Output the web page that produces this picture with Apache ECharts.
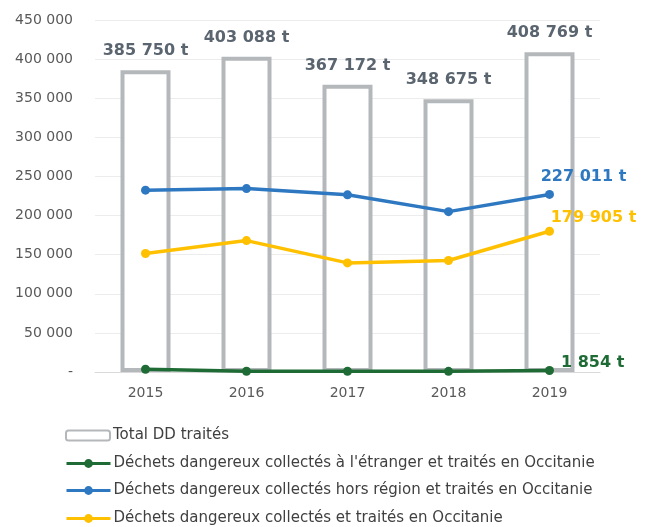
<!DOCTYPE html>
<html>
<head>
<meta charset="utf-8">
<script src="https://cdn.jsdelivr.net/npm/echarts@6/dist/echarts.min.js"></script>
<style>
  html, body { margin: 0; padding: 0; background: #fff; }
  #chart { width: 653px; height: 527px; }
</style>
</head>
<body>
<div id="chart"></div>
<script>
// Tonnages de déchets dangereux traités en Occitanie, 2015–2019
const years = ['2015', '2016', '2017', '2018', '2019'];
const totalTraites = [385750, 403088, 367172, 348675, 408769];
const collectesEtranger = [3500, 1000, 1000, 800, 1854];
const collectesHorsRegion = [232500, 234500, 226500, 205000, 227011];
const collectesOccitanie = [151500, 168000, 139500, 142500, 179905];

const seriesNames = [
  'Total DD traités',
  "Déchets dangereux collectés à l'étranger et traités en Occitanie",
  'Déchets dangereux collectés hors région et traités en Occitanie',
  'Déchets dangereux collectés et traités en Occitanie'
];

const textFont = '"DejaVu Sans", sans-serif';

function fmt(v) {
  return String(Math.round(v)).replace(/\B(?=(\d{3})+(?!\d))/g, ' ');
}

// label shown only on the last point of each line
function lastLabel(color, position, offset) {
  return {
    show: true,
    position: position,
    offset: offset,
    color: color,
    fontFamily: textFont,
    fontWeight: 'bold',
    fontSize: 16,
    formatter: p => (p.dataIndex === years.length - 1 ? fmt(p.value) + ' t' : '')
  };
}

// one legend block per row, stacked under the plot
const legendRowCenters = [437, 465, 492, 520];
const legends = seriesNames.map((name, i) => ({
  orient: 'vertical',
  left: 65,
  top: legendRowCenters[i] - 9,
  padding: 0,
  itemWidth: 44,
  itemHeight: i === 0 ? 10 : 11,
  lineStyle: { width: 3 },
  textStyle: { color: '#404040', fontSize: 15, fontFamily: textFont, padding: [0, 0, 0, -2] },
  data: [name]
}));

const chart = echarts.init(document.getElementById('chart'), null, { renderer: 'canvas' });
chart.setOption({
  animation: false,
  backgroundColor: '#ffffff',
  grid: { left: 95, right: 53, top: 20, bottom: 155 },
  legend: legends,
  xAxis: {
    type: 'category',
    data: years,
    axisLine: { show: true, lineStyle: { color: '#d9d9d9', width: 1 } },
    axisTick: { show: false },
    axisLabel: { color: '#595959', fontSize: 14, fontFamily: textFont, margin: 14 }
  },
  yAxis: {
    type: 'value',
    min: 0,
    max: 450000,
    interval: 50000,
    axisLine: { show: false },
    axisTick: { show: false },
    splitLine: { lineStyle: { color: '#ececec', width: 1 } },
    axisLabel: {
      color: '#595959', fontSize: 14, fontFamily: textFont, margin: 22,
      formatter: v => (v === 0 ? '-' : fmt(v))
    }
  },
  series: [
    {
      name: seriesNames[0],
      type: 'bar',
      data: totalTraites,
      barWidth: 50,
      itemStyle: { color: '#ffffff', borderColor: '#b5b8bb', borderWidth: 4 },
      label: {
        show: true,
        position: 'top',
        distance: 11,
        color: '#5b6570',
        fontFamily: textFont,
        fontWeight: 'bold',
        fontSize: 16,
        formatter: p => fmt(p.value) + ' t'
      },
      z: 1
    },
    {
      name: seriesNames[1],
      type: 'line',
      data: collectesEtranger,
      symbol: 'circle',
      symbolSize: 9,
      lineStyle: { color: '#1f6b35', width: 3.5 },
      itemStyle: { color: '#1f6b35' },
      label: lastLabel('#1f6b35', 'right', [2, -8]),
      z: 3
    },
    {
      name: seriesNames[2],
      type: 'line',
      data: collectesHorsRegion,
      symbol: 'circle',
      symbolSize: 9,
      lineStyle: { color: '#2e78c2', width: 3.5 },
      itemStyle: { color: '#2e78c2' },
      label: lastLabel('#2e78c2', 'top', [34, 0]),
      z: 3
    },
    {
      name: seriesNames[3],
      type: 'line',
      data: collectesOccitanie,
      symbol: 'circle',
      symbolSize: 9,
      lineStyle: { color: '#ffc000', width: 3.5 },
      itemStyle: { color: '#ffc000' },
      label: lastLabel('#ffc000', 'top', [44, 4]),
      z: 3
    }
  ]
});
</script>
</body>
</html>
